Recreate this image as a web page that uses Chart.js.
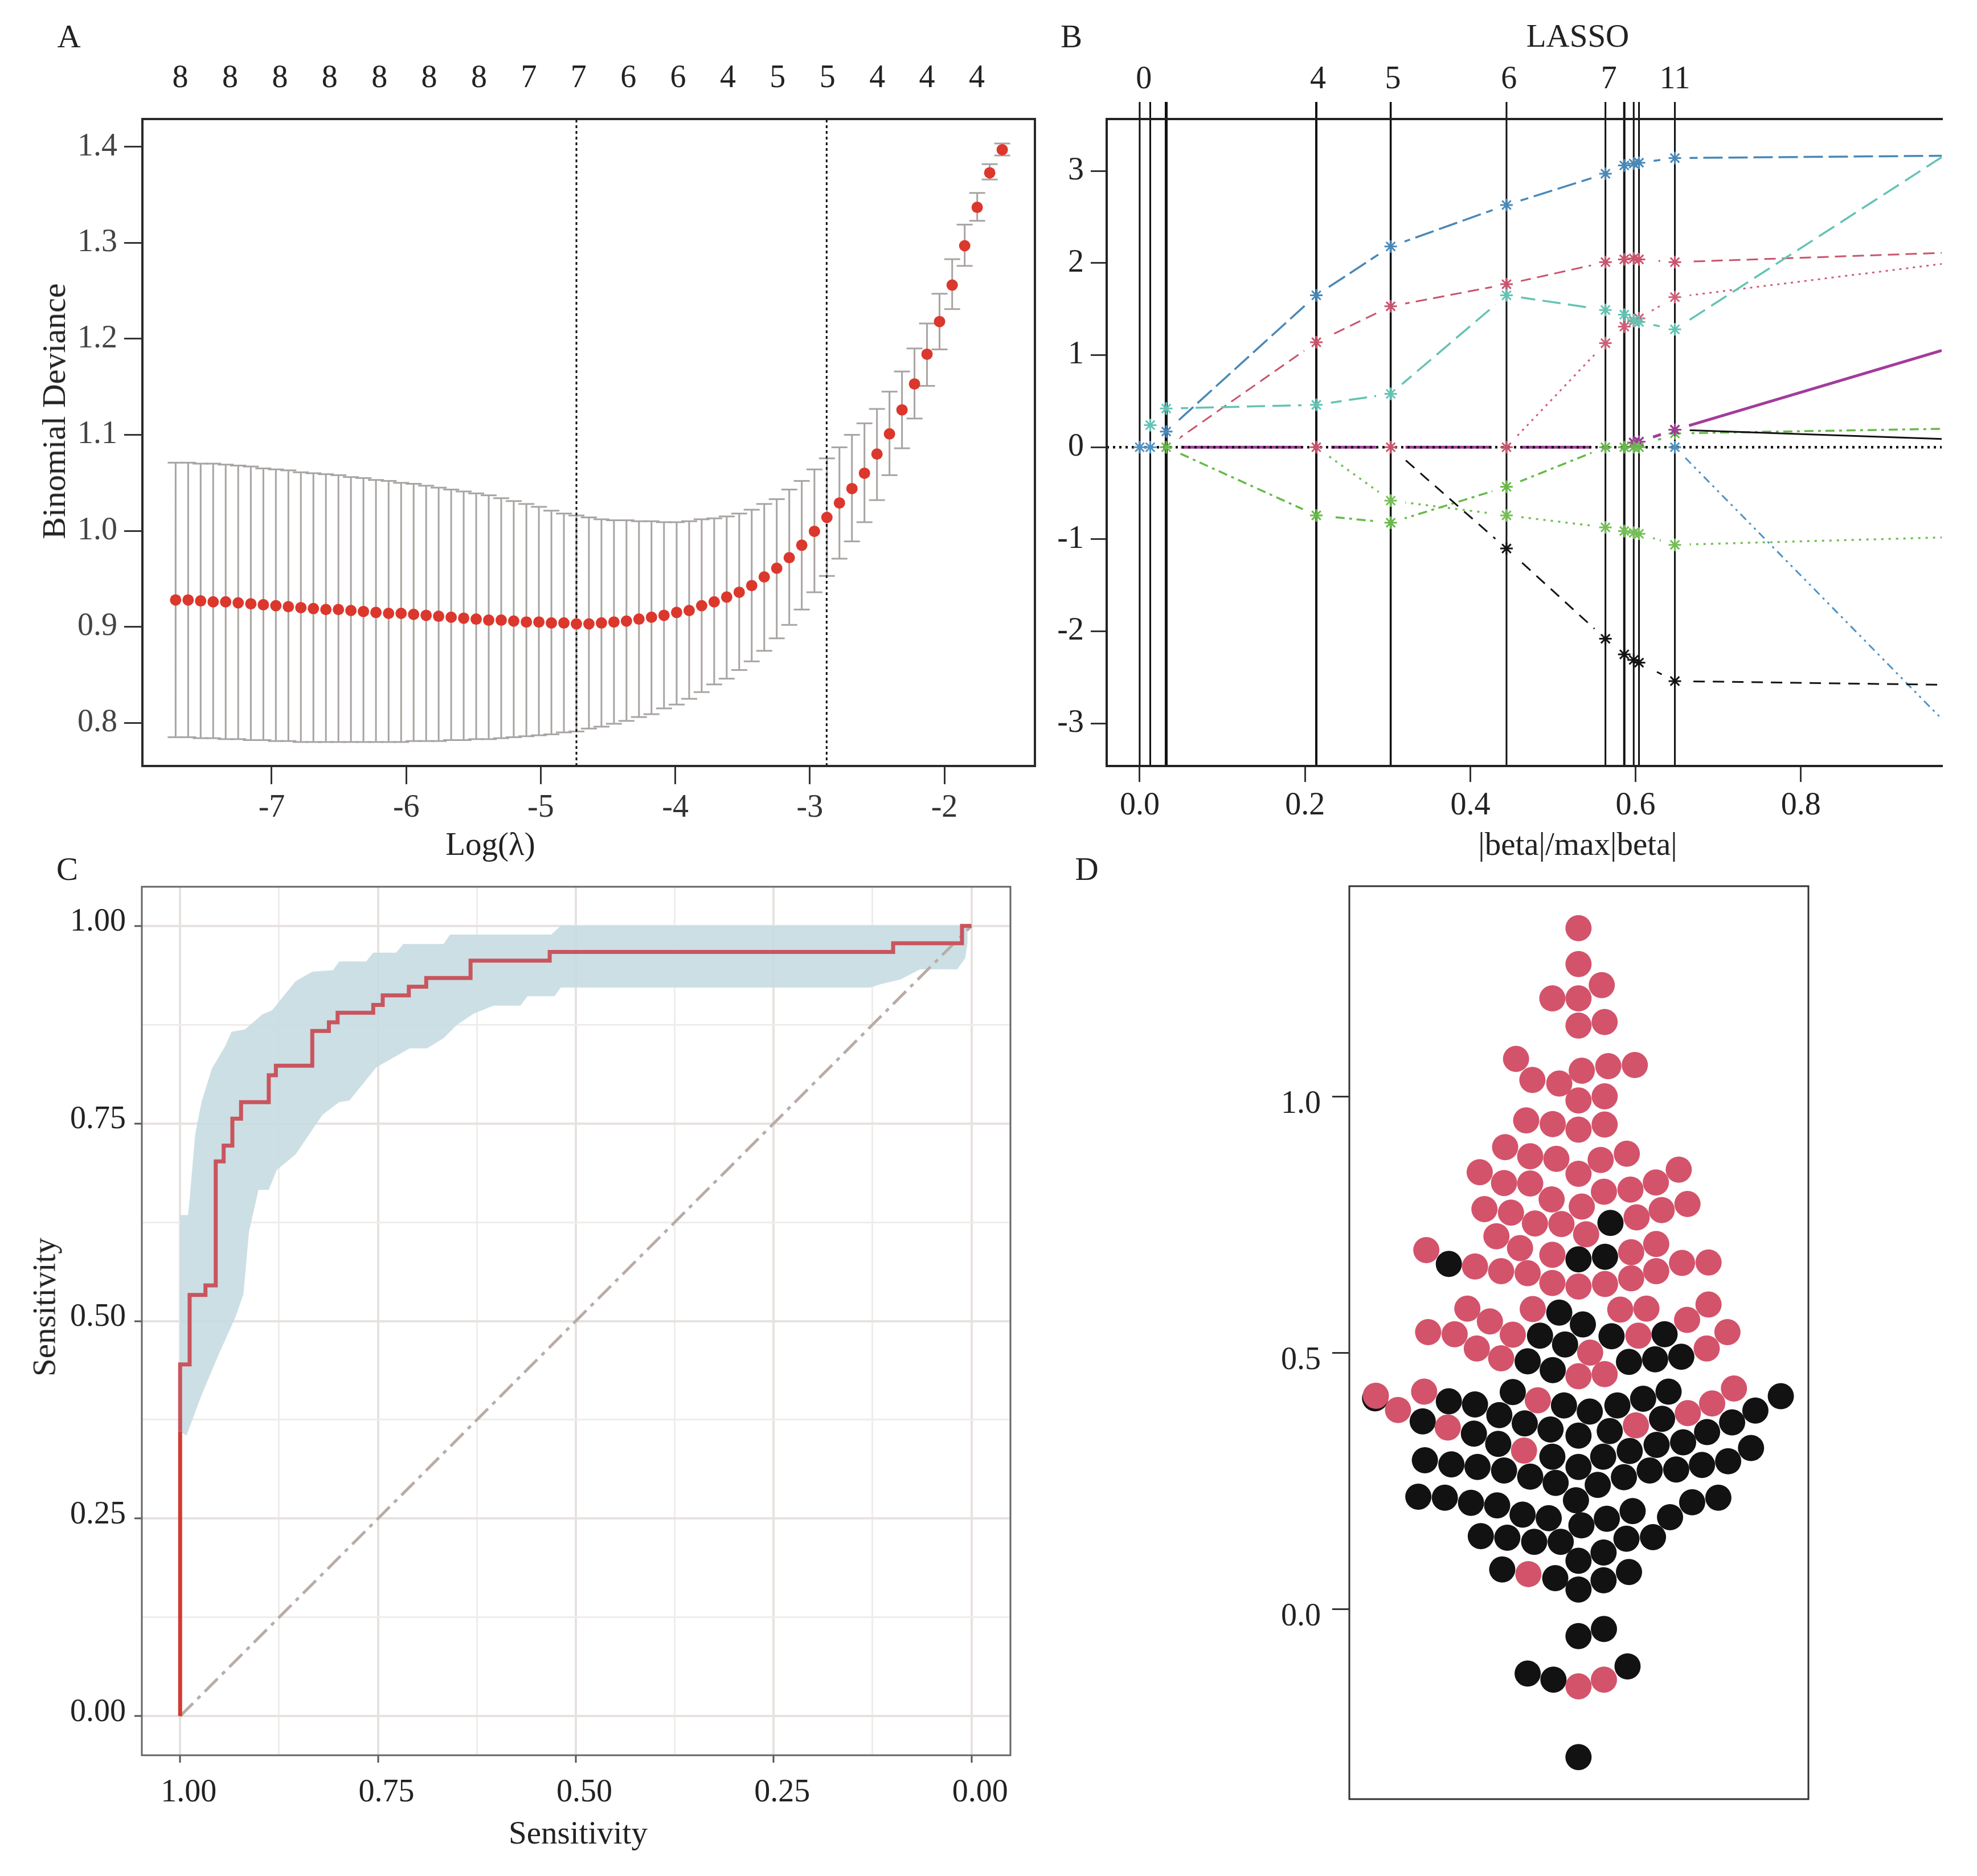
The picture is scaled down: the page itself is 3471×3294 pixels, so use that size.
<!DOCTYPE html>
<html><head><meta charset="utf-8"><title>LASSO panels</title>
<script src="https://cdn.jsdelivr.net/npm/chart.js@4/dist/chart.umd.js"></script>
<style>
html,body{margin:0;padding:0;background:#fff;width:3471px;height:3294px;overflow:hidden}
#page{position:relative;width:3471px;height:3294px;font-family:"Liberation Serif",serif;color:#222}
canvas{position:absolute}
.t{position:absolute;white-space:nowrap;transform:translate(-50%,-50%);font-size:57px;line-height:1}
.r{transform:translate(-50%,-50%) rotate(-90deg)}
</style></head><body><div id="page">
<canvas id="a" style="left:0;top:0" width="1850" height="1500"></canvas>
<canvas id="b" style="left:1850px;top:0" width="1621" height="1500"></canvas>
<canvas id="c" style="left:0;top:1500px" width="1850" height="1794"></canvas>
<canvas id="d" style="left:2200px;top:1480px" width="1100" height="1740"></canvas>
<div class="t" style="left:121px;top:63px">A</div>
<div class="t" style="left:1881px;top:63px">B</div>
<div class="t" style="left:118px;top:1525px">C</div>
<div class="t" style="left:1908px;top:1525px">D</div>
<div class="t" style="left:2770px;top:62px">LASSO</div>
<div class="t" style="left:861px;top:1481px">Log(λ)</div>
<div class="t" style="left:2770px;top:1481px">|beta|/max|beta|</div>
<div class="t r" style="left:95px;top:722px;font-size:58px">Binomial Deviance</div>
<div class="t" style="left:1015px;top:3217px">Sensitivity</div>
<div class="t r" style="left:77px;top:2295px">Sensitivity</div>
</div>
<script>
// ---------- Panel A: cross-validation curve ----------
const lambdaLog = [-7.714,-7.621,-7.528,-7.435,-7.342,-7.249,-7.155,-7.062,-6.969,-6.876,-6.783,-6.690,-6.597,-6.504,-6.411,-6.318,-6.225,-6.131,-6.038,-5.945,-5.852,-5.759,-5.666,-5.573,-5.480,-5.387,-5.294,-5.201,-5.107,-5.014,-4.921,-4.828,-4.735,-4.642,-4.549,-4.456,-4.363,-4.270,-4.177,-4.084,-3.990,-3.897,-3.804,-3.711,-3.618,-3.525,-3.432,-3.339,-3.246,-3.153,-3.060,-2.966,-2.873,-2.780,-2.687,-2.594,-2.501,-2.408,-2.315,-2.222,-2.129,-2.036,-1.942,-1.849,-1.756,-1.663,-1.570];
const devianceMean = [.928,.928,.927,.926,.926,.925,.924,.923,.922,.921,.920,.919,.918,.918,.917,.916,.915,.914,.914,.913,.912,.911,.910,.909,.908,.907,.907,.906,.905,.905,.904,.904,.903,.903,.904,.905,.906,.908,.910,.912,.915,.917,.922,.926,.931,.936,.943,.952,.961,.972,.985,.9995,1.014,1.029,1.044,1.060,1.080,1.101,1.126,1.153,1.184,1.218,1.256,1.297,1.337,1.373,1.397];
const devianceUpper = [1.071,1.071,1.070,1.070,1.069,1.068,1.067,1.065,1.064,1.063,1.061,1.060,1.059,1.058,1.056,1.055,1.053,1.052,1.050,1.049,1.047,1.045,1.043,1.041,1.039,1.037,1.034,1.031,1.028,1.025,1.021,1.018,1.016,1.014,1.012,1.011,1.011,1.010,1.010,1.009,1.009,1.010,1.012,1.013,1.015,1.018,1.022,1.028,1.033,1.043,1.052,1.064,1.0755,1.087,1.100,1.112,1.127,1.145,1.166,1.190,1.216,1.247,1.283,1.319,1.352,1.382,1.4035];
const devianceLower = [.785,.785,.784,.784,.783,.783,.782,.782,.781,.781,.780,.780,.780,.780,.780,.780,.780,.780,.780,.781,.781,.781,.782,.782,.783,.783,.784,.785,.786,.787,.788,.790,.791,.794,.796,.799,.802,.806,.809,.815,.819,.825,.832,.840,.846,.855,.864,.875,.888,.902,.918,.936,.953,.971,.989,1.009,1.032,1.058,1.086,1.117,1.151,1.189,1.231,1.276,1.323,1.366,1.391];
const lambdaMarks = [-4.735,-2.875];
const aXTicks = [-7,-6,-5,-4,-3,-2];
const aYTicks = [0.8,0.9,1.0,1.1,1.2,1.3,1.4];
const aTopPos = [-7.679,-7.309,-6.939,-6.569,-6.199,-5.829,-5.459,-5.089,-4.719,-4.349,-3.979,-3.609,-3.239,-2.869,-2.499,-2.129,-1.759];
const aTopLabels = ['8','8','8','8','8','8','8','7','7','6','6','4','5','5','4','4','4'];

// ---------- Panel B: coefficient paths ----------
const pathKnots = [0,.0128,.0321,.2137,.3037,.4438,.5635,.5863,.5977,.6041,.6475,.9703];
const pathBlueLong  = [0,0,.17,1.65,2.18,2.63,2.97,3.06,3.08,3.09,3.14,3.165];
const pathRedDash   = [0,0,0,1.14,1.53,1.77,2.01,2.04,2.05,2.04,2.01,2.11];
const pathTeal      = [0,.24,.42,.46,.58,1.65,1.49,1.44,1.38,1.36,1.28,3.15];
const pathRedDot    = [0,0,0,0,0,0,1.13,1.31,1.37,1.40,1.63,1.99];
const pathGreenDash = [0,0,0,-.74,-.82,-.43,0,0,0,0,.15,.20];
const pathGreenDot  = [0,0,0,0,-.58,-.74,-.87,-.91,-.93,-.94,-1.06,-.98];
const pathBlackDash = [0,0,0,0,0,-1.10,-2.08,-2.25,-2.31,-2.34,-2.54,-2.58];
const pathPurple    = [0,0,0,0,0,0,0,0,.05,.06,.19,1.05];
const pathBlack     = [0,0,0,0,0,0,0,0,.05,.06,.19,.09];
const pathBlueDots  = [0,0,0,0,0,0,0,0,0,0,0,-2.95];
const bXTicks = [0,.2,.4,.6,.8];
const bYTicks = [-3,-2,-1,0,1,2,3];
const bTopPos = [.005,.2158,.3063,.4467,.5677,.6475];
const bTopLabels = ['0','4','5','6','7','11'];

// ---------- Panel C: ROC curve ----------
const rocSpec = [1,1,1,.988,.968,.955,.945,.934,.923,.888,.879,.833,.812,.801,.756,.744,.711,.689,.633,.533,.099,.012,0];
const rocSens = [0,.36,.445,.533,.545,.702,.722,.756,.777,.811,.823,.867,.878,.890,.900,.912,.923,.934,.956,.967,.978,1,1];
const bandSpec = [1,.990,.988,.981,.973,.960,.943,.935,.918,.896,.884,.854,.833,.807,.799,.765,.756,.727,.718,.667,.659,.531,.519,.005,.005,.008,.018,.065,.090,.115,.128,.519,.527,.561,.570,.604,.629,.650,.667,.688,.710,.731,.752,.786,.799,.820,.854,.878,.888,.901,.913,.920,.930,.952,.973,.992,1];
const bandSens = [.634,.634,.654,.736,.777,.819,.848,.866,.869,.888,.893,.930,.942,.944,.955,.955,.966,.966,.977,.977,.989,.989,1,1,.978,.959,.945,.945,.932,.926,.922,.922,.911,.911,.899,.899,.889,.875,.858,.845,.845,.833,.821,.779,.777,.761,.711,.691,.666,.666,.613,.534,.505,.456,.406,.355,.36];
const cMajor = [0,.25,.5,.75,1];
const cAllTicks = [0,.125,.25,.375,.5,.625,.75,.875,1];

// ---------- Panel D: beeswarm ----------
const pinkOffset = [0,0,64,-72,0,0,72,-172,-127,-53,9,82,155,0,72,-144,-71,0,72,-202,-133,-61,61,133,-272,-205,-133,0,276,-74,70,143,213,-259,-186,9,160,229,300,-120,-47,21,-226,-161,-419,-72,145,214,-285,-213,-140,-72,0,73,145,214,285,358,-306,-244,-126,115,187,358,299,-414,-341,-181,165,410,-280,-213,32,353,0,72,-558,-497,-425,-112,-360,158,301,368,428,-150,-138,0,70];
const pinkScore = [1.328,1.258,1.217,1.191,1.191,1.138,1.145,1.073,1.032,1.025,1.050,1.059,1.061,.992,1.0,.953,.946,.935,.945,.901,.883,.878,.876,.888,.852,.831,.830,.849,.857,.799,.814,.818,.832,.780,.773,.785,.764,.778,.790,.752,.751,.731,.727,.704,.700,.691,.696,.712,.668,.659,.655,.636,.629,.634,.645,.659,.675,.676,.586,.561,.585,.584,.586,.594,.564,.540,.536,.535,.533,.540,.508,.489,.500,.508,.454,.458,.416,.388,.424,.407,.354,.358,.382,.401,.430,.309,.068,-.151,-.138];
const blackOffset = [88,0,73,-357,-53,12,-106,91,237,-37,-140,-71,139,211,283,-181,-357,-285,-218,-429,-148,-40,31,107,178,248,230,-77,-288,-221,0,86,215,288,354,423,487,557,-560,-72,68,141,475,-423,-350,-278,-205,-133,-63,0,53,125,196,269,340,412,-441,-368,-296,-224,-154,-82,-7,8,78,149,252,313,385,-269,-196,-122,-49,132,205,69,0,-210,-64,0,69,139,0,70,-140,-69,135,0];
const blackScore = [.753,.682,.687,.673,.578,.555,.533,.532,.536,.516,.483,.466,.482,.487,.492,.423,.405,.399,.378,.366,.362,.397,.385,.397,.410,.424,.371,.350,.342,.322,.338,.347,.320,.325,.345,.364,.387,.415,.411,.297,.297,.308,.314,.290,.282,.277,.270,.258,.246,.277,.242,.257,.270,.272,.281,.288,.219,.217,.207,.202,.184,.177,.212,.163,.176,.191,.179,.208,.217,.142,.139,.131,.131,.137,.140,.110,.094,.077,.060,.038,.056,.072,-.053,-.039,-.126,-.138,-.112,-.289];
const dYTicks = [0,.5,1];

// ---------- shared helpers ----------
Chart.defaults.font.family = '"Liberation Serif", serif';
Chart.defaults.animation = false;
const framePlugin = {id:'frame', afterDraw(ch, _a, o){
  const {left,right,top,bottom} = ch.chartArea, c = ch.ctx;
  c.save(); c.strokeStyle = o.color; c.lineWidth = o.width; c.lineCap = 'square'; c.beginPath();
  if(o.sides.includes('t')){c.moveTo(left,top);c.lineTo(right,top);}
  if(o.sides.includes('b')){c.moveTo(left,bottom);c.lineTo(right,bottom);}
  if(o.sides.includes('l')){c.moveTo(left,top);c.lineTo(left,bottom);}
  if(o.sides.includes('r')){c.moveTo(right,top);c.lineTo(right,bottom);}
  c.stroke(); c.restore();
}};
const zip = (xs,ys) => xs.map((x,i)=>({x,y:ys[i]}));
const base = (pad, frame) => ({responsive:false, devicePixelRatio:1, animation:false, events:[],
  layout:{padding:pad, autoPadding:false},
  plugins:{legend:{display:false}, tooltip:{enabled:false}, frame}});
const numAxis = (o) => ({
  type:'linear', position:o.pos, min:o.min, max:o.max, reverse:!!o.reverse,
  afterBuildTicks:s=>{s.ticks=o.ticks.map(v=>({value:v}));},
  afterFit:s=>{ if(o.pos==='left') s.width=o.size; else s.height=o.size; },
  border:{display:false},
  grid:o.grid||{drawOnChartArea:false, tickLength:o.tick, tickWidth:o.tickW||3, tickColor:o.tickColor||'#333'},
  ticks:Object.assign({color:o.color||'#222', font:{size:o.font||56}, padding:o.padTick, autoSkip:false, maxRotation:0, minRotation:0,
    callback:o.fmt, labelOffset:o.labelOffset||0}, o.ticksExtra||{})
});
const topAxis = (o) => ({
  type:'linear', axis:'x', position:'top', min:o.min, max:o.max,
  afterBuildTicks:s=>{s.ticks=o.pos.map(v=>({value:v}));},
  afterFit:s=>{s.height=o.size;},
  border:{display:false}, grid:{display:false, drawTicks:false},
  ticks:{color:'#222', font:{size:56}, padding:o.pad, autoSkip:false, maxRotation:0, minRotation:0,
    callback:(v,i)=>o.labels[i]}
});
const spacerTop = (h) => ({display:false,type:'linear',axis:'x',position:'top',afterFit:s=>{s.height=h;}});

// ---------- Panel A ----------
const stems = [];
lambdaLog.forEach((x,i)=>{stems.push({x,y:devianceLower[i]},{x,y:devianceUpper[i]},{x,y:null});});
new Chart(document.getElementById('a'),{type:'line',plugins:[framePlugin],
 data:{datasets:[
  {data:zip(lambdaLog,devianceMean),showLine:false,pointRadius:10,pointBackgroundColor:'#dc372d',pointBorderWidth:0,order:1},
  {data:lambdaMarks.flatMap(x=>[{x,y:.755},{x,y:1.429},{x,y:null}]),borderColor:'#111',borderWidth:3,borderDash:[5,5],pointRadius:0,order:2},
  {data:zip(lambdaLog,devianceUpper),showLine:false,pointStyle:'line',pointRadius:14,pointBorderWidth:3,pointBorderColor:'#a8a4a2',order:3},
  {data:zip(lambdaLog,devianceLower),showLine:false,pointStyle:'line',pointRadius:14,pointBorderWidth:3,pointBorderColor:'#a8a4a2',order:3},
  {data:stems,borderColor:'#a8a4a2',borderWidth:3,pointRadius:0,order:4}
 ]},
 options:Object.assign(base({right:33},{sides:'tblr',color:'#2a2a2a',width:4}),{scales:{
  x:numAxis({pos:'bottom',min:-7.961,max:-1.327,ticks:aXTicks,size:155,tick:32,padTick:9,color:'#333',fmt:v=>String(v)}),
  y:numAxis({pos:'left',min:.755,max:1.429,ticks:aYTicks,size:250,tick:32,padTick:12,color:'#444',fmt:v=>v.toFixed(1)}),
  xt:topAxis({min:-7.961,max:-1.327,pos:aTopPos,labels:aTopLabels,size:209,pad:37})
 }})
});

// ---------- Panel B ----------
const bYMin=-3.462,bYMax=3.564,bLineTop=3.75;
const paths = [
 {v:pathBlueDots, color:'#4f93c4', dash:[14,8,4,8,4,8], w:3},
 {v:pathGreenDot, color:'#74bf55', dash:[4,9], w:3.5},
 {v:pathGreenDash,color:'#67b94a', dash:[16,8,5,8], w:3.5},
 {v:pathRedDot,   color:'#cf5f78', dash:[4,8], w:3},
 {v:pathBlackDash,color:'#141414', dash:[20,14], w:3},
 {v:pathRedDash,  color:'#c9546d', dash:[20,11], w:3},
 {v:pathBlueLong, color:'#4888b8', dash:[34,10], w:3.5},
 {v:pathTeal,     color:'#64c3b3', dash:[32,13], w:3.5},
 {v:pathBlack,    color:'#111', dash:[], w:3},
 {v:pathPurple,   color:'#a23b9c', dash:[], w:5}
];
const vWidths = [3,3,5,4,3.5,3,3,4,3,3,3];
const bSets = [];
paths.forEach((p,i)=>{
  bSets.push({data:zip(pathKnots,p.v),borderColor:p.color,borderWidth:p.w,borderDash:p.dash,tension:0,
    pointRadius:pathKnots.map((_,k)=>k===pathKnots.length-1?0:26),pointBackgroundColor:'#fff',pointBorderWidth:0,order:100-i});
});
pathKnots.slice(0,11).forEach((x,i)=>{
  bSets.push({data:[{x,y:bYMin},{x,y:bLineTop}],borderColor:'#111',borderWidth:vWidths[i],pointRadius:0,clip:false,order:50});
});
bSets.push({data:[{x:-.0399,y:0},{x:.9703,y:0}],borderColor:'#111',borderWidth:4.5,borderDash:[4,7],pointRadius:0,order:40});
paths.forEach((p,i)=>{
  const pts = pathKnots.map((x,k)=>({x,y:p.v[k]})).filter((q,k)=>k<11 && q.y!==0);
  bSets.push({data:pts,showLine:false,pointStyle:'star',pointRadius:11,pointBorderWidth:3,pointBorderColor:p.color,order:30-i});
});
const zeroMarkColors = ['#4f93c4','#4f93c4','#67b94a','#c9546d','#c9546d','#c9546d','#67b94a','#67b94a','#67b94a','#67b94a','#4f93c4'];
bSets.push({data:pathKnots.slice(0,11).map(x=>({x,y:0})),showLine:false,pointStyle:'star',pointRadius:11,pointBorderWidth:3,pointBorderColor:zeroMarkColors,order:10});
new Chart(document.getElementById('b'),{type:'line',plugins:[framePlugin],
 data:{datasets:bSets},
 options:Object.assign(base({right:62},{sides:'tbl',color:'#222',width:4}),{scales:{
  x:numAxis({pos:'bottom',min:-.0399,max:.9703,ticks:bXTicks,size:155,tick:28,padTick:9,fmt:v=>v.toFixed(1)}),
  y:numAxis({pos:'left',min:bYMin,max:bYMax,ticks:bYTicks,size:93,tick:28,padTick:12,fmt:v=>String(v)}),
  xt:topAxis({min:-.0399,max:.9703,pos:bTopPos,labels:bTopLabels,size:209,pad:35})
 }})
});

// ---------- Panel C ----------
const isMajor = v => cMajor.includes(v);
const cGrid = {drawOnChartArea:true, tickLength:13,
  color:c=>isMajor(c.tick.value)?'#e7e2df':'#efedeb', lineWidth:c=>isMajor(c.tick.value)?4:3,
  tickColor:c=>isMajor(c.tick.value)?'#555':'rgba(0,0,0,0)', tickWidth:3};
new Chart(document.getElementById('c'),{type:'line',plugins:[framePlugin],
 data:{datasets:[
  {data:zip(rocSpec,rocSens),stepped:'before',borderWidth:7,pointRadius:0,borderColor:'#c9555e',
   segment:{borderColor:c=>c.p1.parsed.y<=.36?'#cf3b33':'#c9555e'},order:1},
  {data:[{x:1,y:0},{x:0,y:1}],borderColor:'#b8aca6',borderWidth:5,borderDash:[32,11,7,11],pointRadius:0,order:2},
  {data:zip(bandSpec,bandSens),fill:'shape',backgroundColor:'rgba(198,220,226,0.9)',borderWidth:0,pointRadius:0,order:3}
 ]},
 options:Object.assign(base({right:76},{sides:'tblr',color:'#666',width:3}),{scales:{
  x:numAxis({pos:'bottom',min:-.0492,max:1.0484,reverse:true,ticks:cAllTicks,size:212,padTick:20,grid:cGrid,labelOffset:15,fmt:v=>isMajor(v)?v.toFixed(2):''}),
  y:numAxis({pos:'left',min:-.0495,max:1.0495,ticks:cAllTicks,size:249,padTick:15,grid:cGrid,labelOffset:-6,fmt:v=>isMajor(v)?v.toFixed(2):''}),
  xt:spacerTop(57)
 }})
});

// ---------- Panel D ----------
new Chart(document.getElementById('d'),{type:'line',plugins:[framePlugin],
 data:{datasets:[
  {data:zip(pinkOffset,pinkScore),showLine:false,pointRadius:23,pointBackgroundColor:'#d3536b',pointBorderWidth:0,order:1},
  {data:zip(blackOffset,blackScore),showLine:false,pointRadius:23,pointBackgroundColor:'#121212',pointBorderWidth:0,order:2}
 ]},
 options:Object.assign(base({right:125,bottom:61},{sides:'tblr',color:'#333',width:3}),{scales:{
  x:{type:'linear',display:false,min:-631,max:633},
  y:numAxis({pos:'left',min:-.371,max:1.41,ticks:dYTicks,size:169,tick:30,padTick:20,labelOffset:14,fmt:v=>v.toFixed(1)}),
  xt:spacerTop(76)
 }})
});
</script></body></html>
